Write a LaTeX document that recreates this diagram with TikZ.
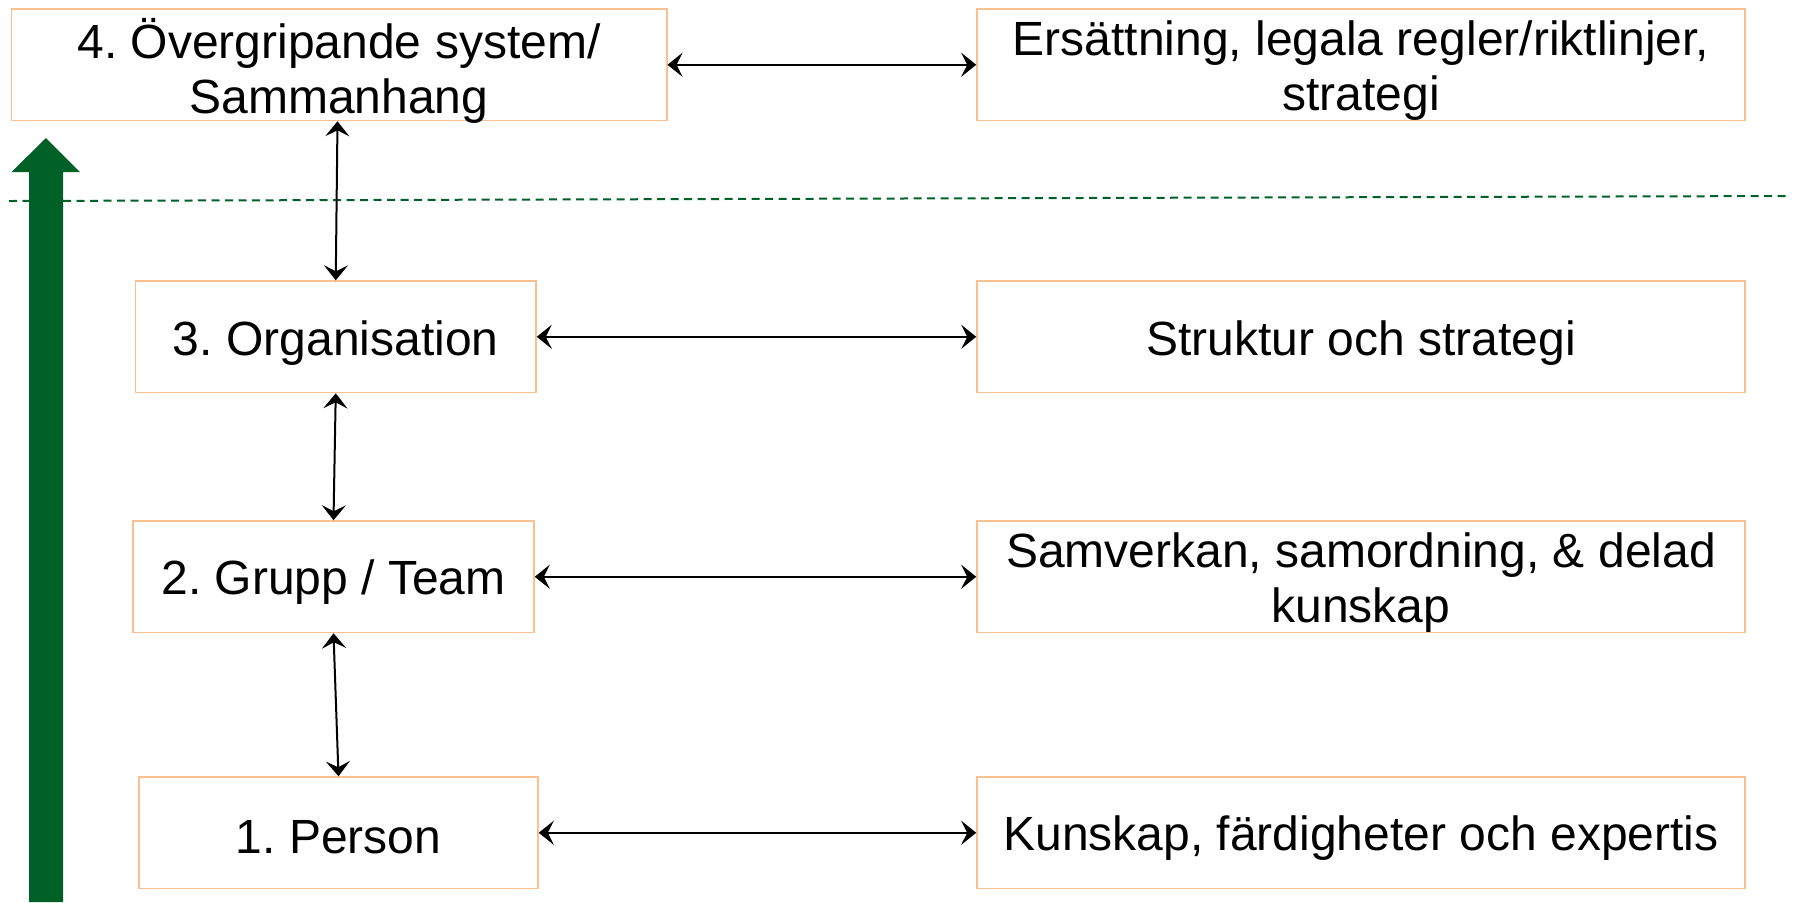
\documentclass[tikz,border=0pt]{standalone}
\usepackage{fontspec}
\setmainfont{Liberation Sans}
\frenchspacing
\usetikzlibrary{arrows.meta}
\definecolor{boxorange}{RGB}{250,192,144}
\definecolor{dgreen}{RGB}{0,97,40}
\begin{document}
\begin{tikzpicture}[x=0.5pt,y=-0.5pt,
  box/.style={draw=boxorange, line width=0.75pt, fill=white, minimum height=55.75pt,
    inner sep=0pt},
  lbl/.style={inner sep=0pt, align=center, font=\fontsize{24}{27.5}\selectfont},
  conn/.style={{Stealth[length=7.5pt,width=12pt,inset=3pt]}-{Stealth[length=7.5pt,width=12pt,inset=3pt]}, line width=1pt, black},
  sep/.style={dgreen, line width=1pt, dash pattern=on 4pt off 2.75pt},
  bigarrow/.style={fill=dgreen, draw=none}]
\useasboundingbox (0,0) rectangle (1800,902);
% separator
\coordinate (sepL) at (9,201);
\coordinate (sepR) at (1790,196);
\draw[sep] (sepL) -- (sepR);
% big green arrow
\fill[bigarrow] (29,902) -- (29,172) -- (11.5,172) -- (46,138) -- (80,172) -- (63,172) -- (63,902) -- cycle;
% left boxes
\node[box, minimum width=327.75pt] (b4) at (339,64.75) {};
\node[box, minimum width=200.25pt] (b3) at (335.75,336.8) {};
\node[box, minimum width=200.5pt] (b2) at (333.5,576.75) {};
\node[box, minimum width=199.5pt] (b1) at (338.5,832.75) {};
% right boxes
\node[box, minimum width=384pt] (r4) at (1361,64.75) {};
\node[box, minimum width=384pt] (r3) at (1361,336.8) {};
\node[box, minimum width=384pt] (r2) at (1361,576.75) {};
\node[box, minimum width=384pt] (r1) at (1361,832.75) {};
% texts
\node[lbl] (t4) at ([yshift=-2.9pt]b4.center) {4. Övergripande system/\\Sammanhang};
\node[lbl] (t3) at ([yshift=-2.9pt]b3.center) {3. Organisation};
\node[lbl] (t2) at ([yshift=-2.9pt]b2.center) {2. Grupp / Team};
\node[lbl] (t1) at ([yshift=-2.2pt]b1.center) {1. Person};
\node[lbl] (s4) at ([yshift=-2.9pt]r4.center) {Ersättning, legala regler/riktlinjer,\\strategi};
\node[lbl] (s3) at ([yshift=-2.9pt]r3.center) {Struktur och strategi};
\node[lbl] (s2) at ([yshift=-2.9pt]r2.center) {Samverkan, samordning, \& delad\\kunskap};
\node[lbl] (s1) at ([yshift=-2.9pt]r1.center) {Kunskap, färdigheter och expertis};
% horizontal connectors
\draw[conn] (b4.east) -- (r4.west);
\draw[conn] (b3.east) -- (r3.west);
\draw[conn] (b2.east) -- (r2.west);
\draw[conn] (b1.east) -- (r1.west);
% vertical connectors
\draw[conn] ([xshift=-0.75pt]b4.south) -- (b3.north);
\draw[conn] (b3.south) -- (b2.north);
\draw[conn] (b2.south) -- (b1.north);
\end{tikzpicture}
\end{document}
